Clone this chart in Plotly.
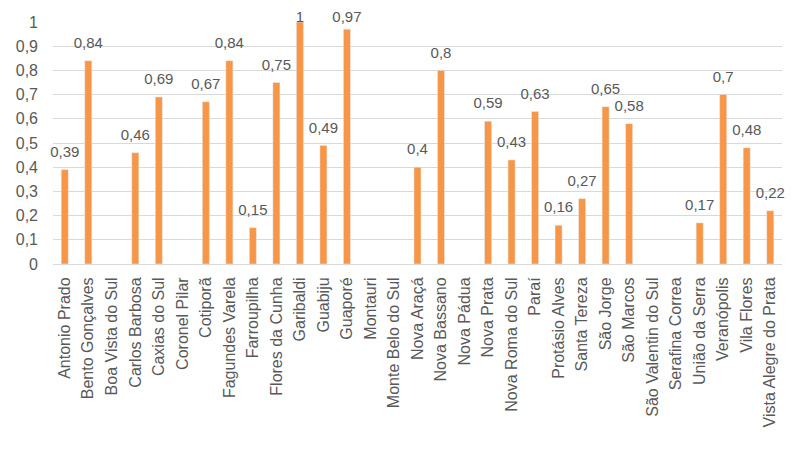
import plotly.graph_objects as go

categories = ["Antonio Prado", "Bento Gonçalves", "Boa Vista do Sul", "Carlos Barbosa",
              "Caxias do Sul", "Coronel Pilar", "Cotiporã", "Fagundes Varela", "Farroupilha",
              "Flores da Cunha", "Garibaldi", "Guabiju", "Guaporé", "Montauri",
              "Monte Belo do Sul", "Nova Araçá", "Nova Bassano", "Nova Pádua", "Nova Prata",
              "Nova Roma do Sul", "Paraí", "Protásio Alves", "Santa Tereza", "São Jorge",
              "São Marcos", "São Valentin do Sul", "Serafina Correa", "União da Serra",
              "Veranópolis", "Vila Flores", "Vista Alegre do Prata"]
values = [0.39, 0.84, None, 0.46, 0.69, None, 0.67, 0.84, 0.15, 0.75, 1, 0.49, 0.97, None,
          None, 0.4, 0.8, None, 0.59, 0.43, 0.63, 0.16, 0.27, 0.65, 0.58, None, None, 0.17,
          0.7, 0.48, 0.22]
tick_vals = [0, 0.1, 0.2, 0.3, 0.4, 0.5, 0.6, 0.7, 0.8, 0.9, 1]
tick_text = ["0", "0,1", "0,2", "0,3", "0,4", "0,5", "0,6", "0,7", "0,8", "0,9", "1"]

labels = ["" if v is None else f"{v:g}".replace(".", ",") for v in values]
# labels are kept inside the chart area (clamped near the top like the original)
label_y = [None if v is None else min(v, 0.945) for v in values]

font_family = "Liberation Sans, Arial, sans-serif"
grey = "#595959"

fig = go.Figure()
fig.add_trace(go.Bar(
    x=categories, y=values,
    marker=dict(color="#F79646"), hoverinfo="x+y",
))
fig.add_trace(go.Scatter(
    x=categories, y=label_y, text=labels, mode="markers+text",
    textposition="top center",
    marker=dict(size=13, color="rgba(0,0,0,0)"),
    textfont=dict(family=font_family, size=15, color=grey),
    cliponaxis=False, hoverinfo="skip",
))
fig.update_layout(
    width=805, height=450,
    margin=dict(l=45, r=31, t=14, b=194),
    paper_bgcolor="white", plot_bgcolor="white",
    bargap=0.7, showlegend=False,
    font=dict(family=font_family, size=16, color=grey),
)
fig.update_xaxes(tickangle=-90, showline=True, linecolor="#d9d9d9", linewidth=1,
                 range=[-0.5, len(categories) - 0.5], ticklabelstandoff=6,
                 ticks="", automargin=False, tickfont=dict(size=16, color=grey))
fig.update_yaxes(range=[0, 1], tickvals=tick_vals, ticktext=tick_text, automargin=False,
                 showgrid=True, gridcolor="#d9d9d9", gridwidth=1, zeroline=False,
                 showline=False, ticks="", ticklabelstandoff=14,
                 tickfont=dict(size=16, color=grey))
fig.write_html("out.html")
